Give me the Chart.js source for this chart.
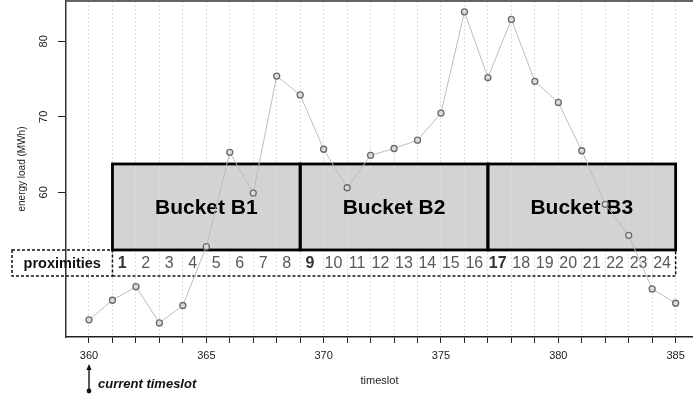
<!DOCTYPE html>
<html>
<head>
<meta charset="utf-8">
<script src="https://cdn.jsdelivr.net/npm/chart.js@4"></script>
<style>
  html, body { margin: 0; padding: 0; background: #ffffff; }
  canvas { display: block; }
</style>
</head>
<body>
<canvas id="chart" width="693" height="399"></canvas>
<script>
// Hourly energy load around the current timeslot
const timeslots = [360, 361, 362, 363, 364, 365, 366, 367, 368, 369, 370, 371, 372,
                   373, 374, 375, 376, 377, 378, 379, 380, 381, 382, 383, 384, 385];
const energyLoad = [43.1, 45.7, 47.5, 42.7, 45.0, 52.8, 65.3, 59.9, 75.4, 72.9, 65.7, 60.6, 64.9,
                    65.8, 66.9, 70.5, 83.9, 75.2, 82.9, 74.7, 71.9, 65.5, 58.4, 54.3, 47.2, 45.3];

// Axis ticks
const xTickLabels = [360, 365, 370, 375, 380, 385];
const yTickValues = [60, 70, 80];

// Forecast buckets (timeslot ranges) and proximity numbering
const bucketNames = ['Bucket B1', 'Bucket B2', 'Bucket B3'];
const bucketStarts = [361, 369, 377];
const bucketEnds = [369, 377, 385];
const proximities = ['1', '2', '3', '4', '5', '6', '7', '8', '9', '10', '11', '12',
                     '13', '14', '15', '16', '17', '18', '19', '20', '21', '22', '23', '24'];
const currentTimeslot = 360;

const FONT = '"Liberation Sans", Arial, Helvetica, sans-serif';

// Vertical placement of the bucket boxes and proximity row (value units)
const BOX_TOP = 63.75;
const BOX_BOTTOM = 52.36;
const ROW_BOTTOM = 48.91;
const ROW_LABEL_LEFT = 356.72;

const bucketOverlay = {
  id: 'bucketOverlay',
  beforeDraw(chart) {
    const {ctx, scales: {x, y}} = chart;
    ctx.save();
    ctx.fillStyle = '#d3d3d3';
    for (let i = 0; i < bucketNames.length; i++) {
      const x0 = x.getPixelForValue(bucketStarts[i]);
      const x1 = x.getPixelForValue(bucketEnds[i]);
      const y0 = y.getPixelForValue(BOX_TOP);
      const y1 = y.getPixelForValue(BOX_BOTTOM);
      ctx.fillRect(x0, y0, x1 - x0, y1 - y0);
    }
    ctx.restore();
  },
  beforeDatasetsDraw(chart) {
    const {ctx, chartArea, scales: {x, y}} = chart;
    const yTop = y.getPixelForValue(BOX_TOP);
    const yMid = y.getPixelForValue(BOX_BOTTOM);
    const yBot = y.getPixelForValue(ROW_BOTTOM);
    const xFirst = x.getPixelForValue(bucketStarts[0]);
    const xLast = x.getPixelForValue(bucketEnds[bucketEnds.length - 1]);
    const xLabel = x.getPixelForValue(ROW_LABEL_LEFT);

    ctx.save();
    // top frame line of the plot region
    ctx.strokeStyle = '#666666';
    ctx.lineWidth = 2;
    ctx.beginPath();
    ctx.moveTo(chartArea.left, chartArea.top);
    ctx.lineTo(chartArea.right, chartArea.top);
    ctx.stroke();

    // dotted outline of the proximity row
    ctx.strokeStyle = '#111111';
    ctx.lineWidth = 1.5;
    ctx.setLineDash([3, 2]);
    ctx.beginPath();
    ctx.rect(xLabel, yMid, xFirst - xLabel, yBot - yMid);
    ctx.moveTo(xFirst, yBot);
    ctx.lineTo(xLast, yBot);
    ctx.lineTo(xLast, yMid);
    ctx.stroke();
    ctx.setLineDash([]);

    // bucket outlines
    ctx.strokeStyle = '#000000';
    ctx.lineWidth = 2.8;
    for (let i = 0; i < bucketNames.length; i++) {
      const x0 = x.getPixelForValue(bucketStarts[i]);
      const x1 = x.getPixelForValue(bucketEnds[i]);
      ctx.strokeRect(x0, yTop, x1 - x0, yMid - yTop);
    }

    // bucket names
    ctx.fillStyle = '#000000';
    ctx.font = 'bold 21px ' + FONT;
    ctx.textAlign = 'center';
    ctx.textBaseline = 'middle';
    for (let i = 0; i < bucketNames.length; i++) {
      const cx = (x.getPixelForValue(bucketStarts[i]) + x.getPixelForValue(bucketEnds[i])) / 2;
      ctx.fillText(bucketNames[i], cx, (yTop + yMid) / 2 + 1);
    }

    // proximity row
    const rowY = (yMid + yBot) / 2 + 1;
    ctx.font = 'bold 14.5px ' + FONT;
    ctx.fillStyle = '#111111';
    ctx.fillText('proximities', (xLabel + xFirst) / 2, rowY);
    for (let i = 0; i < proximities.length; i++) {
      const slot = bucketStarts[0] + i;
      const bold = bucketStarts.includes(slot);
      ctx.font = (bold ? 'bold ' : '') + '16px ' + FONT;
      ctx.fillStyle = bold ? '#333333' : '#585858';
      ctx.fillText(proximities[i], x.getPixelForValue(slot + 0.42), rowY);
    }
    ctx.restore();
  },
  afterDraw(chart) {
    const {ctx, scales: {x}} = chart;
    const ax = x.getPixelForValue(currentTimeslot);
    const tipY = 364, baseY = 391;
    ctx.save();
    ctx.strokeStyle = '#111111';
    ctx.fillStyle = '#111111';
    ctx.lineWidth = 1.4;
    ctx.beginPath();
    ctx.moveTo(ax, baseY);
    ctx.lineTo(ax, tipY + 4);
    ctx.stroke();
    ctx.beginPath();
    ctx.moveTo(ax, tipY);
    ctx.lineTo(ax - 2.6, tipY + 6);
    ctx.lineTo(ax + 2.6, tipY + 6);
    ctx.closePath();
    ctx.fill();
    ctx.beginPath();
    ctx.arc(ax, baseY, 2.4, 0, Math.PI * 2);
    ctx.fill();
    ctx.font = 'italic bold 13px ' + FONT;
    ctx.textAlign = 'left';
    ctx.textBaseline = 'middle';
    ctx.fillText('current timeslot', ax + 9, 384);
    ctx.restore();
  }
};

new Chart(document.getElementById('chart'), {
  type: 'line',
  data: {
    datasets: [{
      data: timeslots.map((t, i) => ({x: t, y: energyLoad[i]})),
      borderColor: '#bdbdbd',
      borderWidth: 1,
      pointRadius: 3,
      pointBorderWidth: 1.3,
      pointBorderColor: '#6a6a6a',
      pointBackgroundColor: '#dcdcdc',
      tension: 0
    }]
  },
  options: {
    responsive: false,
    devicePixelRatio: 1,
    animation: false,
    events: [],
    layout: {autoPadding: false, padding: {top: 1, left: 0, right: 0, bottom: 0}},
    plugins: {legend: {display: false}, tooltip: {enabled: false}},
    scales: {
      x: {
        type: 'linear',
        min: 359.02,
        max: 385.74,
        afterBuildTicks: (scale) => { scale.ticks = timeslots.map(v => ({value: v})); },
        afterFit: (scale) => {
          scale.height = 62;
          scale.paddingLeft = 0;
          scale.paddingRight = 0;
        },
        ticks: {
          autoSkip: false,
          maxRotation: 0,
          padding: 6.5,
          color: '#222222',
          font: {family: FONT, size: 11},
          callback: (v) => xTickLabels.includes(v) ? String(v) : ''
        },
        grid: {
          color: '#dddddd',
          lineWidth: 1,
          tickColor: '#222222',
          tickLength: 6,
          tickWidth: 1
        },
        border: {display: true, color: '#222222', width: 1.5, dash: [2, 2]},
        title: {
          display: true,
          text: 'timeslot',
          color: '#222222',
          font: {family: FONT, size: 11},
          padding: {top: 0, bottom: 11}
        }
      },
      y: {
        min: 40.83,
        max: 85.34,
        afterBuildTicks: (scale) => { scale.ticks = yTickValues.map(v => ({value: v})); },
        afterFit: (scale) => {
          scale.width = 66;
          scale.paddingTop = 0;
          scale.paddingBottom = 0;
        },
        ticks: {
          minRotation: 90,
          maxRotation: 90,
          crossAlign: 'center',
          padding: 8,
          color: '#222222',
          font: {family: FONT, size: 11}
        },
        grid: {
          drawOnChartArea: false,
          tickColor: '#222222',
          tickLength: 8,
          tickWidth: 1
        },
        border: {display: true, color: '#333333', width: 1.5},
        title: {
          display: true,
          text: 'energy load (MWh)',
          color: '#222222',
          font: {family: FONT, size: 10},
          padding: {top: 16, bottom: 0}
        }
      }
    }
  },
  plugins: [bucketOverlay]
});
</script>
</body>
</html>
